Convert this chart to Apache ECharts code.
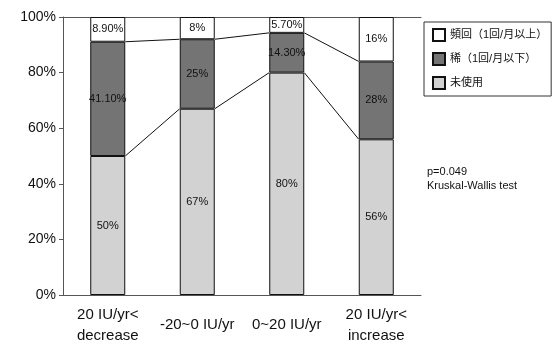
<!DOCTYPE html>
<html><head><meta charset="utf-8">
<script src="https://cdn.jsdelivr.net/npm/echarts@6/dist/echarts.min.js"></script>
<style>html,body{margin:0;padding:0;background:#fff}#c{width:554px;height:346px}</style>
</head><body><div id="c"></div>
<script>
const categories = ['20 IU/yr<\ndecrease', '-20~0 IU/yr', '0~20 IU/yr', '20 IU/yr<\nincrease'];
const unusedVals = [50, 67, 80, 56];
const rareVals = [41.1, 25, 14.3, 28];
const freqVals = [8.9, 8, 5.7, 16];
const unusedLabels = ['50%', '67%', '80%', '56%'];
const rareLabels = ['41.10%', '25%', '14.30%', '28%'];
const freqLabels = ['8.90%', '8%', '5.70%', '16%'];
const yTicks = [0, 20, 40, 60, 80, 100];
const seriesNames = ['頻回（1回/月以上）', '稀（1回/月以下）', '未使用'];

const BW = 35;
const font = '"Liberation Sans", Arial, "Noto Sans CJK JP", sans-serif';
const cumUnused = unusedVals.map((v, i) => [i, v]);
const cumRare = unusedVals.map((v, i) => [i, v + rareVals[i]]);

function connector(params, api) {
  const i = api.value(0);
  if (i >= categories.length - 1) return null;
  const data = params.seriesIndex === 3 ? cumUnused : cumRare;
  const p1 = api.coord([i, data[i][1]]);
  const p2 = api.coord([i + 1, data[i + 1][1]]);
  return {
    type: 'line',
    shape: { x1: p1[0] + BW / 2, y1: p1[1], x2: p2[0] - BW / 2, y2: p2[1] },
    style: { stroke: '#111', lineWidth: 1 }
  };
}

function barSeries(name, vals, labels, color) {
  return {
    name, type: 'bar', stack: 'a', barWidth: BW,
    data: vals,
    itemStyle: { color, borderColor: '#111', borderWidth: 1 },
    label: { show: true, position: 'inside', color: '#111', fontSize: 11, fontFamily: font,
      formatter: p => labels[p.dataIndex] },
    emphasis: { disabled: true }
  };
}

const chart = echarts.init(document.getElementById('c'), null, { renderer: 'canvas' });
chart.setOption({
  animation: false,
  grid: { left: 63, right: 133, top: 17, bottom: 49 },
  legend: {
    orient: 'vertical', left: 424, top: 22,
    data: seriesNames,
    itemWidth: 12, itemHeight: 12, itemGap: 10,
    padding: [6, 4, 6, 8],
    borderColor: '#333', borderWidth: 1,
    icon: 'rect',
    textStyle: { fontSize: 11, color: '#111', fontFamily: font }
  },
  xAxis: [{
    type: 'category', data: categories,
    axisLine: { lineStyle: { color: '#555' } },
    axisTick: { show: false },
    axisLabel: { fontSize: 15, color: '#111', fontFamily: font, lineHeight: 21, margin: 30,
      verticalAlign: 'middle', interval: 0 }
  }, {
    type: 'category', data: categories, position: 'top',
    axisLine: { lineStyle: { color: '#555' } },
    axisTick: { show: false }, axisLabel: { show: false }
  }],
  yAxis: {
    type: 'value', min: yTicks[0], max: yTicks[yTicks.length - 1], interval: 20,
    axisLine: { show: true, lineStyle: { color: '#555' } },
    axisTick: { show: true, length: 4, lineStyle: { color: '#555' } },
    splitLine: { show: false },
    axisLabel: { formatter: '{value}%', fontSize: 14, color: '#111', fontFamily: font, margin: 7 }
  },
  series: [
    barSeries(seriesNames[2], unusedVals, unusedLabels, '#d2d2d2'),
    barSeries(seriesNames[1], rareVals, rareLabels, '#747474'),
    barSeries(seriesNames[0], freqVals, freqLabels, '#ffffff'),
    { type: 'custom', renderItem: connector, data: cumUnused, z: 5, silent: true },
    { type: 'custom', renderItem: connector, data: cumRare, z: 5, silent: true }
  ],
  graphic: [{
    type: 'text', left: 427, top: 165,
    style: { text: 'p=0.049\nKruskal-Wallis test', fontSize: 11, lineHeight: 14, fill: '#111', font: '11px ' + font }
  }]
});
</script></body></html>
